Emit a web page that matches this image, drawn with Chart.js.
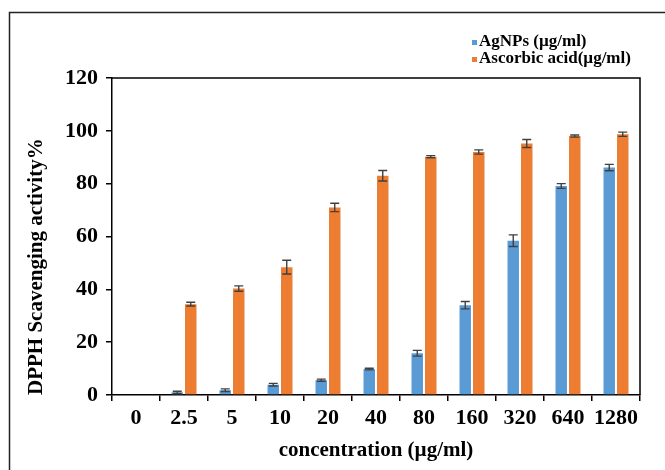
<!DOCTYPE html>
<html>
<head>
<meta charset="utf-8">
<script src="https://cdn.jsdelivr.net/npm/chart.js@4.4.1/dist/chart.umd.min.js"></script>
<style>
  html, body { margin: 0; padding: 0; background: #fff; }
  canvas { display: block; }
</style>
</head>
<body>
<canvas id="dpphChart" width="665" height="470"></canvas>
<script>
const concentrations = ['0', '2.5', '5', '10', '20', '40', '80', '160', '320', '640', '1280'];
const agnps = [0, 1.0, 1.8, 3.9, 5.6, 9.8, 15.8, 34.0, 58.4, 79.1, 86.1];
const agnpsErr = [0, 0.4, 0.5, 0.5, 0.4, 0.3, 1.1, 1.4, 2.2, 0.9, 1.2];
const ascorbic = [0, 34.4, 40.3, 48.4, 71.0, 83.0, 90.2, 92.0, 95.2, 98.0, 98.7];
const ascorbicErr = [0, 0.7, 1.0, 2.6, 1.6, 2.0, 0.4, 0.8, 1.5, 0.4, 0.8];
const yTicks = [0, 20, 40, 60, 80, 100, 120];

const serif = '"Liberation Serif", "Times New Roman", serif';

// error bars on top of each bar
const errorBarsPlugin = {
    id: 'errorBars',
    afterDatasetsDraw(chart) {
        const ctx = chart.ctx;
        const yScale = chart.scales.y;
        ctx.save();
        ctx.strokeStyle = '#404040';
        ctx.lineWidth = 1.4;
        chart.data.datasets.forEach((ds, i) => {
            const meta = chart.getDatasetMeta(i);
            meta.data.forEach((bar, j) => {
                const err = ds.errors[j];
                if (!err) return;
                const v = ds.data[j];
                const yTop = yScale.getPixelForValue(v + err);
                const yBot = yScale.getPixelForValue(Math.max(0, v - err));
                const half = 4.5;
                ctx.beginPath();
                ctx.moveTo(bar.x, yTop);
                ctx.lineTo(bar.x, yBot);
                ctx.moveTo(bar.x - half, yTop);
                ctx.lineTo(bar.x + half, yTop);
                ctx.moveTo(bar.x - half, yBot);
                ctx.lineTo(bar.x + half, yBot);
                ctx.stroke();
            });
        });
        ctx.restore();
    }
};

// outer frame, plot box and the small legend
const framePlugin = {
    id: 'frame',
    afterDraw(chart) {
        const ctx = chart.ctx;
        const area = chart.chartArea;
        ctx.save();
        ctx.strokeStyle = '#222';
        ctx.lineWidth = 1.5;
        ctx.beginPath();
        ctx.moveTo(9.5, 470);
        ctx.lineTo(9.5, 12.5);
        ctx.lineTo(665, 12.5);
        ctx.stroke();

        ctx.strokeStyle = '#000';
        ctx.beginPath();
        ctx.moveTo(area.left, area.top);
        ctx.lineTo(area.right, area.top);
        ctx.lineTo(area.right, area.bottom);
        ctx.stroke();

        ctx.font = 'bold 17px ' + serif;
        ctx.textBaseline = 'middle';
        ctx.textAlign = 'left';
        chart.data.datasets.forEach((ds, i) => {
            const y = 42 + i * 17;
            ctx.fillStyle = ds.backgroundColor;
            ctx.fillRect(472, y - 2, 5, 5);
            ctx.fillStyle = '#000';
            ctx.fillText(ds.label, 479, y);
        });
        ctx.restore();
    }
};

const ctx = document.getElementById('dpphChart').getContext('2d');

new Chart(ctx, {
    type: 'bar',
    data: {
        labels: concentrations,
        datasets: [
            {
                label: 'AgNPs (µg/ml)',
                data: agnps,
                errors: agnpsErr,
                backgroundColor: '#5b9bd5',
                categoryPercentage: 0.5625,
                barPercentage: 0.85
            },
            {
                label: 'Ascorbic acid(µg/ml)',
                data: ascorbic,
                errors: ascorbicErr,
                backgroundColor: '#ed7d31',
                categoryPercentage: 0.5625,
                barPercentage: 0.85
            }
        ]
    },
    options: {
        responsive: false,
        animation: false,
        layout: {
            padding: { top: 78, right: 25, bottom: 0, left: 0 }
        },
        plugins: {
            legend: { display: false },
            tooltip: { enabled: false }
        },
        scales: {
            x: {
                grid: {
                    offset: true,
                    drawOnChartArea: false,
                    drawTicks: true,
                    tickLength: 6,
                    color: '#000',
                    lineWidth: 1.5
                },
                border: { color: '#000', width: 1.5 },
                ticks: {
                    color: '#000',
                    font: { family: serif, size: 22, weight: 'bold' },
                    padding: 4,
                    maxRotation: 0,
                    autoSkip: false
                },
                title: {
                    display: true,
                    text: 'concentration (µg/ml)',
                    color: '#000',
                    font: { family: serif, size: 21, weight: 'bold' },
                    padding: { top: 0, bottom: 7 }
                },
                afterFit(scale) {
                    scale.height = 75;
                }
            },
            y: {
                min: 0,
                max: 120,
                grid: {
                    drawOnChartArea: false,
                    drawTicks: true,
                    tickLength: 6,
                    color: '#000',
                    lineWidth: 1.5
                },
                border: { color: '#000', width: 1.5 },
                afterBuildTicks(scale) {
                    scale.ticks = yTicks.map(v => ({ value: v }));
                },
                ticks: {
                    color: '#000',
                    font: { family: serif, size: 22, weight: 'bold' },
                    padding: 8
                },
                title: {
                    display: true,
                    text: 'DPPH Scavenging activity%',
                    align: 'start',
                    color: '#000',
                    font: { family: serif, size: 21, weight: 'bold' },
                    padding: { top: 24, bottom: 0 }
                },
                afterFit(scale) {
                    scale.width = 112;
                }
            }
        }
    },
    plugins: [errorBarsPlugin, framePlugin]
});
</script>
</body>
</html>
